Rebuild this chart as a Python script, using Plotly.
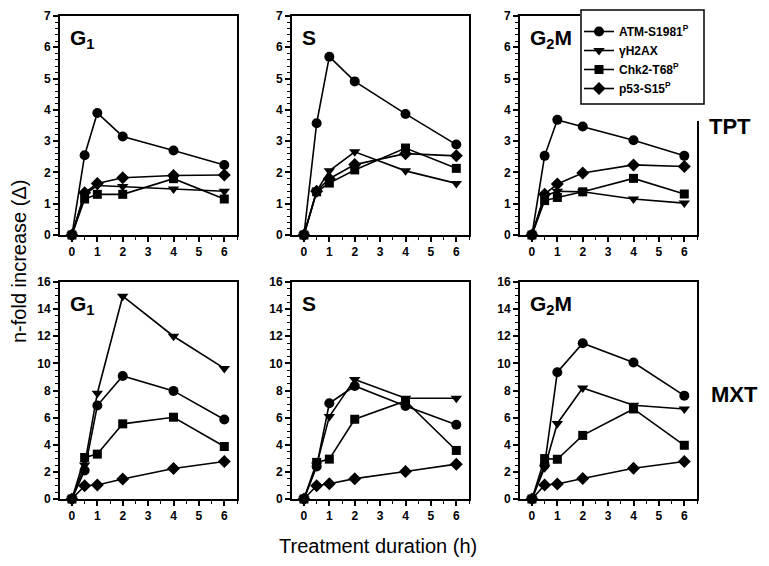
import plotly.graph_objects as go

W, H = 769, 566

hours = [0, 0.5, 1, 2, 4, 6]
series_names = ["ATM-S1981<sup>P</sup>", "γH2AX", "Chk2-T68<sup>P</sup>", "p53-S15<sup>P</sup>"]
series_symbols = ["circle", "triangle-down", "square", "diamond"]
phases = ["G<sub>1</sub>", "S", "G<sub>2</sub>M"]
treatments = ["TPT", "MXT"]

# TPT row
tpt_g1_atm = [0, 2.55, 3.9, 3.15, 2.7, 2.24]
tpt_g1_h2ax = [0, 1.3, 1.58, 1.55, 1.47, 1.4]
tpt_g1_chk2 = [0, 1.15, 1.3, 1.3, 1.8, 1.15]
tpt_g1_p53 = [0, 1.35, 1.65, 1.83, 1.9, 1.92]

tpt_s_atm = [0, 3.57, 5.7, 4.91, 3.87, 2.89]
tpt_s_h2ax = [0, 1.4, 2.05, 2.66, 2.05, 1.65]
tpt_s_chk2 = [0, 1.38, 1.66, 2.08, 2.78, 2.13]
tpt_s_p53 = [0, 1.4, 1.8, 2.25, 2.6, 2.53]

tpt_g2m_atm = [0, 2.53, 3.68, 3.47, 3.03, 2.53]
tpt_g2m_h2ax = [0, 1.25, 1.4, 1.38, 1.15, 1.02]
tpt_g2m_chk2 = [0, 1.1, 1.2, 1.38, 1.81, 1.31]
tpt_g2m_p53 = [0, 1.3, 1.63, 1.98, 2.24, 2.19]

# MXT row
mxt_g1_atm = [0, 2.1, 6.89, 9.07, 7.97, 5.86]
mxt_g1_h2ax = [0, 2.5, 7.8, 14.95, 12.0, 9.63]
mxt_g1_chk2 = [0, 3.06, 3.31, 5.54, 6.03, 3.87]
mxt_g1_p53 = [0, 0.98, 1.03, 1.47, 2.25, 2.77]

mxt_s_atm = [0, 2.4, 7.06, 8.33, 6.86, 5.47]
mxt_s_h2ax = [0, 2.5, 6.08, 8.82, 7.43, 7.43]
mxt_s_chk2 = [0, 2.7, 2.94, 5.88, 7.23, 3.58]
mxt_s_p53 = [0, 0.98, 1.13, 1.5, 2.03, 2.57]

mxt_g2m_atm = [0, 2.5, 9.35, 11.48, 10.06, 7.62]
mxt_g2m_h2ax = [0, 2.3, 5.57, 8.18, 6.91, 6.64]
mxt_g2m_chk2 = [0, 2.98, 2.93, 4.69, 6.64, 3.96]
mxt_g2m_p53 = [0, 1.03, 1.1, 1.51, 2.27, 2.76]

panels = [
    [[tpt_g1_atm, tpt_g1_h2ax, tpt_g1_chk2, tpt_g1_p53],
     [tpt_s_atm, tpt_s_h2ax, tpt_s_chk2, tpt_s_p53],
     [tpt_g2m_atm, tpt_g2m_h2ax, tpt_g2m_chk2, tpt_g2m_p53]],
    [[mxt_g1_atm, mxt_g1_h2ax, mxt_g1_chk2, mxt_g1_p53],
     [mxt_s_atm, mxt_s_h2ax, mxt_s_chk2, mxt_s_p53],
     [mxt_g2m_atm, mxt_g2m_h2ax, mxt_g2m_chk2, mxt_g2m_p53]],
]
y_ranges = [[0, 7], [0, 16]]
y_dticks = [1, 2]
y_minor = [0.2, 0.5]

# pixel layout
col_px = [(60, 237), (292, 469), (520, 697)]
row_px = [(16, 235), (282, 499)]

FONT = "Liberation Sans, Arial, sans-serif"
marker_sizes = [10, 10, 9, 10]

fig = go.Figure()
layout = {}
annotations = []
for r in range(2):
    for c in range(3):
        idx = r * 3 + c + 1
        xa = "x" if idx == 1 else f"x{idx}"
        ya = "y" if idx == 1 else f"y{idx}"
        for s in range(4):
            fig.add_trace(go.Scatter(
                x=hours, y=panels[r][c][s], xaxis=xa, yaxis=ya,
                mode="lines+markers", name=series_names[s],
                showlegend=(r == 0 and c == 0),
                line=dict(color="black", width=1.6),
                marker=dict(symbol=series_symbols[s], size=marker_sizes[s], color="black"),
                cliponaxis=False,
            ))
        x0, x1 = col_px[c]
        y0, y1 = row_px[r]
        common = dict(showgrid=False, zeroline=False, showline=True, linecolor="black",
                      linewidth=2, mirror=True, ticks="outside", ticklen=5, tickwidth=1.5,
                      tickcolor="black", automargin=False,
                      tickfont=dict(family=FONT, size=12, color="black", weight="bold"))
        layout["xaxis" if idx == 1 else f"xaxis{idx}"] = dict(
            domain=[x0 / W, x1 / W], anchor=ya, range=[-0.47, 6.5],
            tickmode="array", tickvals=[0, 1, 2, 3, 4, 5, 6],
            minor=dict(dtick=0.5, tick0=0, ticks="outside", ticklen=3, tickcolor="black", tickwidth=1),
            **common)
        layout["yaxis" if idx == 1 else f"yaxis{idx}"] = dict(
            domain=[1 - y1 / H, 1 - y0 / H], anchor=xa, range=y_ranges[r],
            dtick=y_dticks[r], tick0=0,
            minor=dict(dtick=y_minor[r], tick0=0, ticks="outside", ticklen=3, tickcolor="black", tickwidth=1),
            **common)
        annotations.append(dict(
            text=f"<b>{phases[c]}</b>", x=(x0 + 8) / W, y=1 - (y0 + 8) / H,
            xref="paper", yref="paper", xanchor="left", yanchor="top", showarrow=False,
            font=dict(family=FONT, size=21, color="black")))

annotations.append(dict(text="<b>TPT</b>", x=730 / W, y=1 - 126 / H, xref="paper", yref="paper",
                        xanchor="center", yanchor="middle",
                        showarrow=False, font=dict(family=FONT, size=22, color="black")))
annotations.append(dict(text="<b>MXT</b>", x=734 / W, y=1 - 394 / H, xref="paper", yref="paper",
                        xanchor="center", yanchor="middle",
                        showarrow=False, font=dict(family=FONT, size=22, color="black")))
annotations.append(dict(text="n-fold increase (Δ)", x=19 / W, y=1 - 262 / H, xref="paper", yref="paper",
                        xanchor="center", yanchor="middle",
                        showarrow=False, textangle=-90, font=dict(family=FONT, size=20, color="black")))
annotations.append(dict(text="Treatment duration (h)", x=378 / W, y=1 - 546 / H, xref="paper", yref="paper",
                        xanchor="center", yanchor="middle",
                        showarrow=False, font=dict(family=FONT, size=20, color="black")))

shapes = [
    # white gap between legend box and the G2M panel's right border
    dict(type="rect", xref="paper", yref="paper", x0=580 / W, x1=706 / W, y0=1 - 121 / H, y1=1,
         fillcolor="white", line=dict(width=0), layer="above"),
    # legend frame
    dict(type="rect", xref="paper", yref="paper", x0=581 / W, x1=704 / W, y0=1 - 104 / H, y1=1 - 10 / H,
         fillcolor="white", line=dict(width=1.5, color="black"), layer="above"),
]

fig.update_layout(
    width=W, height=H, margin=dict(l=0, r=0, t=0, b=0, autoexpand=False),
    plot_bgcolor="white", paper_bgcolor="white",
    annotations=annotations, shapes=shapes,
    legend=dict(x=579 / W, y=1 - 17 / H, xanchor="left", yanchor="top",
                bgcolor="rgba(0,0,0,0)", borderwidth=0,
                font=dict(family=FONT, size=12, color="black", weight="bold"),
                tracegroupgap=0, itemwidth=30),
    **layout,
)
fig.write_html("out.html", config={"displayModeBar": False},
               post_script="document.body.style.margin='0';")
